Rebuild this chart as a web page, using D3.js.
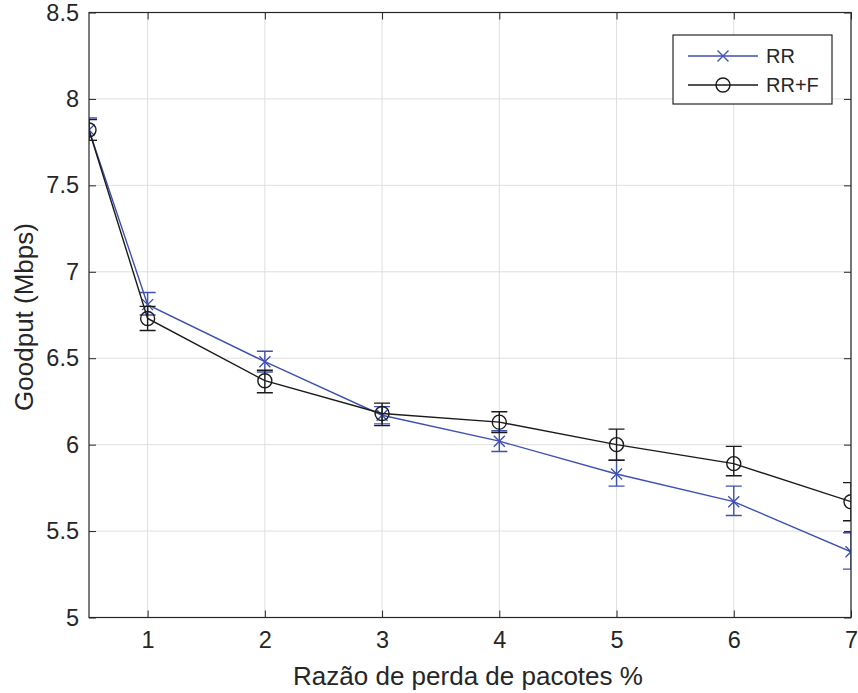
<!DOCTYPE html>
<html>
<head>
<meta charset="utf-8">
<script src="https://cdn.jsdelivr.net/npm/d3@7"></script>
<style>
  body { margin: 0; background: #fff; }
  text { font-family: "Liberation Sans", Arial, sans-serif; fill: #262626; }
</style>
</head>
<body>
<div id="chart"></div>
<script>
// data
var lossRatio = [0.5, 1, 2, 3, 4, 5, 6, 7];
var rrMean  = [7.82, 6.81, 6.48, 6.17, 6.02, 5.83, 5.67, 5.38];
var rrLow   = [7.76, 6.75, 6.42, 6.12, 5.96, 5.76, 5.59, 5.28];
var rrHigh  = [7.89, 6.88, 6.54, 6.22, 6.08, 5.91, 5.76, 5.49];
var rrfMean = [7.82, 6.73, 6.37, 6.18, 6.13, 6.00, 5.89, 5.67];
var rrfLow  = [7.76, 6.66, 6.30, 6.11, 6.07, 5.91, 5.82, 5.56];
var rrfHigh = [7.88, 6.80, 6.43, 6.24, 6.19, 6.09, 5.99, 5.78];
var xTicks = [1, 2, 3, 4, 5, 6, 7];
var yTicks = [5, 5.5, 6, 6.5, 7, 7.5, 8, 8.5];

var width = 858, height = 693;
var margin = { left: 89, right: 7, top: 12.5, bottom: 75.5 };

var svg = d3.select("#chart").append("svg").attr("width", width).attr("height", height);

var x = d3.scaleLinear().domain([0.5, 7]).range([margin.left, width - margin.right]);
var y = d3.scaleLinear().domain([5, 8.5]).range([height - margin.bottom, margin.top]);

var axisColor = "#262626";

// grid
svg.append("g").selectAll("line.gx").data(xTicks).enter().append("line")
    .attr("x1", function (d) { return x(d); }).attr("x2", function (d) { return x(d); })
    .attr("y1", y(5)).attr("y2", y(8.5))
    .attr("stroke", "#dfdfdf").attr("stroke-width", 1);
svg.append("g").selectAll("line.gy").data(yTicks).enter().append("line")
    .attr("x1", x(0.5)).attr("x2", x(7))
    .attr("y1", function (d) { return y(d); }).attr("y2", function (d) { return y(d); })
    .attr("stroke", "#dfdfdf").attr("stroke-width", 1);

// clip to the axes box
svg.append("clipPath").attr("id", "plotClip").append("rect")
    .attr("x", x(0.5)).attr("y", y(8.5))
    .attr("width", x(7) - x(0.5)).attr("height", y(5) - y(8.5));

var series = [
    { name: "RR", color: "#3f51b0", marker: "x", mean: rrMean, low: rrLow, high: rrHigh },
    { name: "RR+F", color: "#1a1a1a", marker: "o", mean: rrfMean, low: rrfLow, high: rrfHigh }
];

var plot = svg.append("g").attr("clip-path", "url(#plotClip)");
var line = d3.line().x(function (d) { return x(d[0]); }).y(function (d) { return y(d[1]); });

function drawMarker(g, type, color, cx, cy) {
    if (type === "x") {
        var s = 5.5;
        g.append("path").attr("d", "M" + (cx - s) + "," + (cy - s) + "L" + (cx + s) + "," + (cy + s) +
            "M" + (cx - s) + "," + (cy + s) + "L" + (cx + s) + "," + (cy - s))
            .attr("stroke", color).attr("stroke-width", 1.4).attr("fill", "none");
    } else {
        g.append("circle").attr("cx", cx).attr("cy", cy).attr("r", 7)
            .attr("stroke", color).attr("stroke-width", 1.4).attr("fill", "none");
    }
}

series.forEach(function (s) {
    var pts = lossRatio.map(function (v, i) { return [v, s.mean[i]]; });
    plot.append("path").datum(pts).attr("d", line)
        .attr("fill", "none").attr("stroke", s.color).attr("stroke-width", 1.4);

    var cap = 8;
    lossRatio.forEach(function (v, i) {
        var cx = x(v);
        plot.append("path")
            .attr("d", "M" + cx + "," + y(s.low[i]) + "V" + y(s.high[i]) +
                "M" + (cx - cap) + "," + y(s.low[i]) + "H" + (cx + cap) +
                "M" + (cx - cap) + "," + y(s.high[i]) + "H" + (cx + cap))
            .attr("stroke", s.color).attr("stroke-width", 1.4).attr("fill", "none");
        drawMarker(plot, s.marker, s.color, cx, y(s.mean[i]));
    });
});

// axes box
svg.append("rect").attr("x", x(0.5)).attr("y", y(8.5))
    .attr("width", x(7) - x(0.5)).attr("height", y(5) - y(8.5))
    .attr("fill", "none").attr("stroke", axisColor).attr("stroke-width", 1.2);

var tickLen = 7;
var xAxis = d3.axisBottom(x).tickValues(xTicks).tickSize(-tickLen).tickPadding(14).tickFormat(d3.format("d"));
var gx = svg.append("g").attr("transform", "translate(0," + y(5) + ")").call(xAxis);
var xTop = d3.axisTop(x).tickValues(xTicks).tickSize(-tickLen).tickFormat("");
var gxt = svg.append("g").attr("transform", "translate(0," + y(8.5) + ")").call(xTop);

var yAxis = d3.axisLeft(y).tickValues(yTicks).tickSize(-tickLen).tickPadding(10)
    .tickFormat(function (d) { return String(d); });
var gy = svg.append("g").attr("transform", "translate(" + x(0.5) + ",0)").call(yAxis);
var yRight = d3.axisRight(y).tickValues(yTicks).tickSize(-tickLen).tickFormat("");
var gyr = svg.append("g").attr("transform", "translate(" + x(7) + ",0)").call(yRight);

[gx, gxt, gy, gyr].forEach(function (g) {
    g.select(".domain").remove();
    g.selectAll(".tick line").attr("stroke", axisColor);
    g.selectAll(".tick text").style("font-size", "23.5px").attr("fill", "#262626")
        .style("font-family", "'Liberation Sans', Arial, sans-serif");
});

// axis labels
svg.append("text").attr("x", 468).attr("y", 685)
    .attr("text-anchor", "middle").style("font-size", "26px")
    .text("Razão de perda de pacotes %");
svg.append("text").attr("transform", "translate(33," + ((y(5) + y(8.5)) / 2 + 2) + ") rotate(-90)")
    .attr("text-anchor", "middle").style("font-size", "26px")
    .text("Goodput (Mbps)");

// legend
var legend = svg.append("g");
legend.append("rect").attr("x", 673).attr("y", 35).attr("width", 159).attr("height", 69)
    .attr("fill", "#fff").attr("stroke", axisColor).attr("stroke-width", 1.2);
series.forEach(function (s, i) {
    var ly = 56 + i * 29;
    legend.append("line").attr("x1", 688).attr("x2", 758).attr("y1", ly).attr("y2", ly)
        .attr("stroke", s.color).attr("stroke-width", 1.4);
    drawMarker(legend, s.marker, s.color, 723, ly);
    legend.append("text").attr("x", 766).attr("y", ly + 7).style("font-size", "20px").text(s.name);
});
</script>
</body>
</html>
